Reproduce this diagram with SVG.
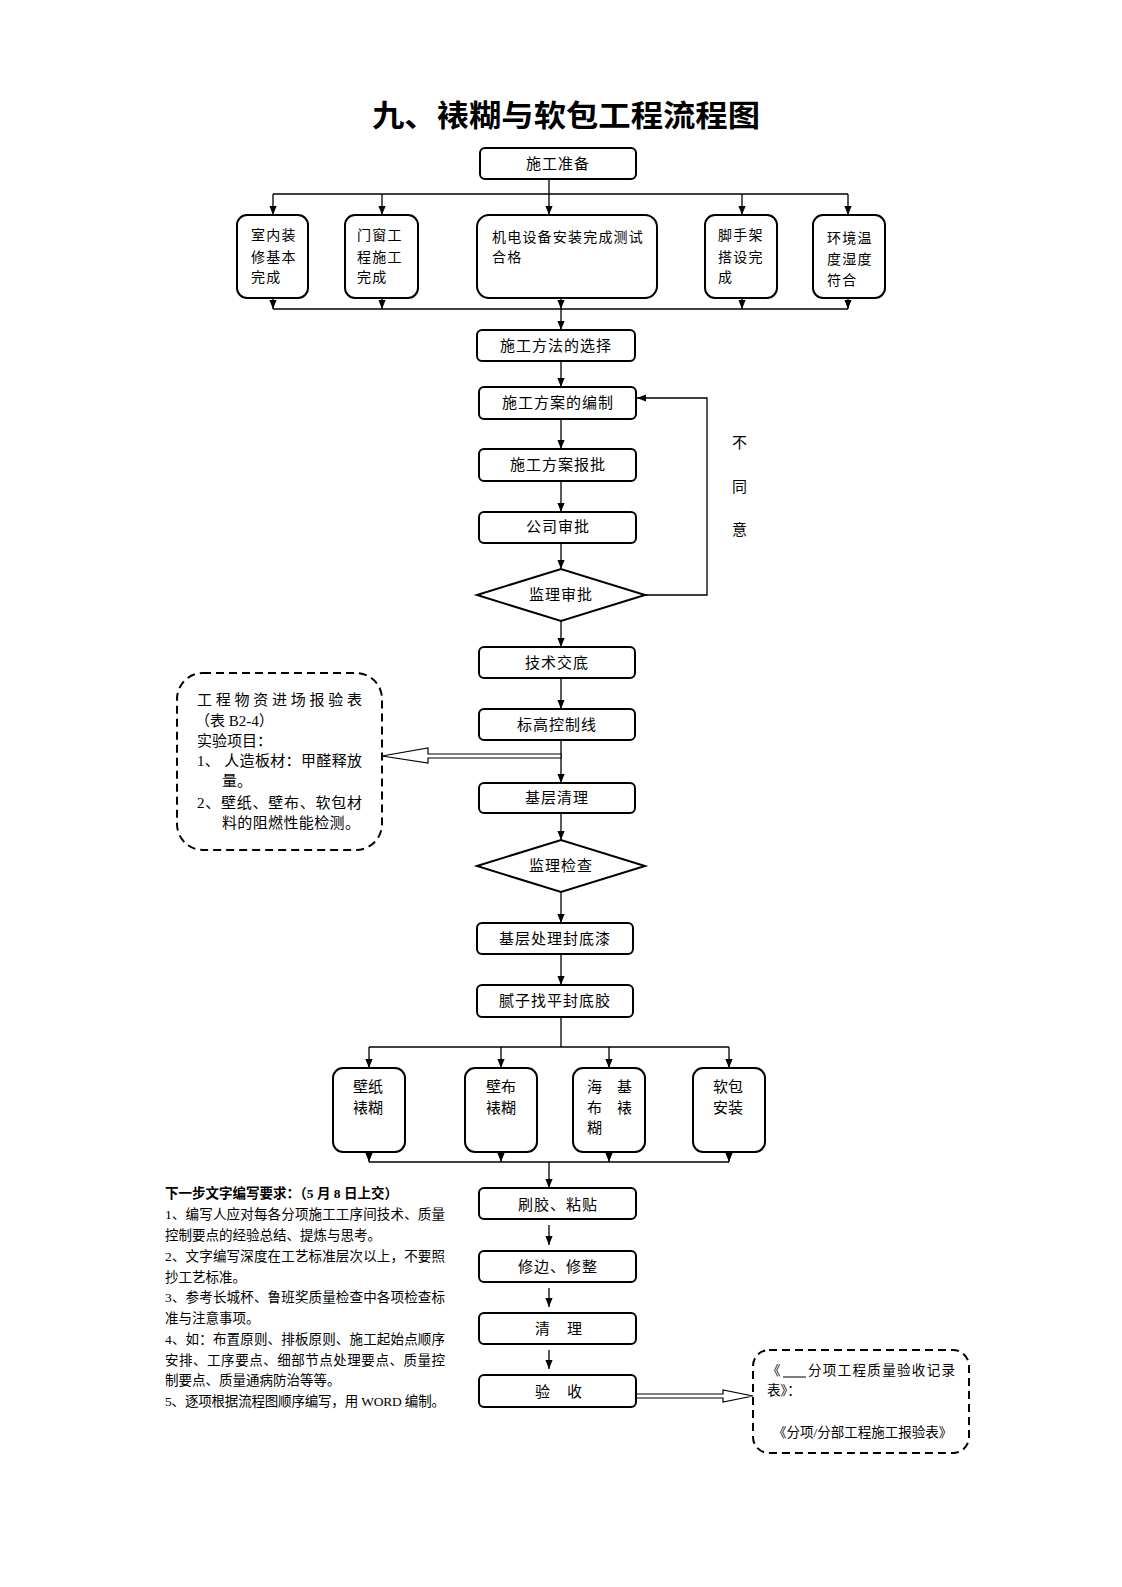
<svg xmlns="http://www.w3.org/2000/svg" width="1122" height="1587" viewBox="0 0 1122 1587">
<style>
.box{fill:#fff;stroke:#000;stroke-width:2}
.dash{fill:none;stroke:#000;stroke-width:2;stroke-dasharray:8 5}
.conn{fill:none;stroke:#000;stroke-width:1.3}
.hollow{fill:#fff;stroke:#000;stroke-width:1.2}
.t{font-family:"Liberation Serif","Noto Sans CJK SC",serif;font-size:15px;fill:#000}
.c{text-anchor:middle;letter-spacing:1px}
.s{font-size:14px;letter-spacing:1.2px}
.n{font-size:13.5px}
.r{font-size:13.5px}
.title{font-family:"Noto Sans CJK SC",sans-serif;font-size:30px;font-weight:bold;fill:#000}
</style>
<defs>
<marker id="ah" viewBox="0 0 10 10" refX="10" refY="5" markerWidth="9" markerHeight="9" markerUnits="userSpaceOnUse" orient="auto">
<path d="M0,1 L10,5 L0,9 z" fill="#000"/>
</marker>
</defs>

<text class="title" x="372" y="126" textLength="388" lengthAdjust="spacingAndGlyphs">九、裱糊与软包工程流程图</text>

<g id="connectors">
<path class="conn" d="M273,194 H848"/>
<path class="conn" d="M273,194 V215" marker-end="url(#ah)"/>
<path class="conn" d="M382,194 V215" marker-end="url(#ah)"/>
<path class="conn" d="M549,179 V215" marker-end="url(#ah)"/>
<path class="conn" d="M742,194 V215" marker-end="url(#ah)"/>
<path class="conn" d="M848,194 V215" marker-end="url(#ah)"/>
<path class="conn" d="M273,309 H848"/>
<path class="conn" d="M273,298 V309" marker-end="url(#ah)"/>
<path class="conn" d="M382,298 V309" marker-end="url(#ah)"/>
<path class="conn" d="M561,298 V309" marker-end="url(#ah)"/>
<path class="conn" d="M742,298 V309" marker-end="url(#ah)"/>
<path class="conn" d="M848,298 V309" marker-end="url(#ah)"/>
<path class="conn" d="M561,309 V330" marker-end="url(#ah)"/>
<path class="conn" d="M561,361 V387" marker-end="url(#ah)"/>
<path class="conn" d="M561,419 V449" marker-end="url(#ah)"/>
<path class="conn" d="M561,481 V512" marker-end="url(#ah)"/>
<path class="conn" d="M561,543 V569" marker-end="url(#ah)"/>
<path class="conn" d="M645,595 H707 V398 H637" marker-end="url(#ah)"/>
<path class="conn" d="M561,621 V647" marker-end="url(#ah)"/>
<path class="conn" d="M561,678 V709" marker-end="url(#ah)"/>
<path class="conn" d="M561,740 V783" marker-end="url(#ah)"/>
<path class="conn" d="M561,813 V840" marker-end="url(#ah)"/>
<path class="conn" d="M561,892 V923" marker-end="url(#ah)"/>
<path class="conn" d="M561,954 V985" marker-end="url(#ah)"/>
<path class="conn" d="M561,1017 V1047"/>
<path class="conn" d="M369,1047 H729"/>
<path class="conn" d="M369,1047 V1068" marker-end="url(#ah)"/>
<path class="conn" d="M501,1047 V1068" marker-end="url(#ah)"/>
<path class="conn" d="M609,1047 V1068" marker-end="url(#ah)"/>
<path class="conn" d="M729,1047 V1068" marker-end="url(#ah)"/>
<path class="conn" d="M369,1162 H729"/>
<path class="conn" d="M369,1152 V1162" marker-end="url(#ah)"/>
<path class="conn" d="M501,1152 V1162" marker-end="url(#ah)"/>
<path class="conn" d="M609,1152 V1162" marker-end="url(#ah)"/>
<path class="conn" d="M729,1152 V1162" marker-end="url(#ah)"/>
<path class="conn" d="M549,1162 V1188" marker-end="url(#ah)"/>
<path class="conn" d="M549,1225 V1245" marker-end="url(#ah)"/>
<path class="conn" d="M549,1288 V1307" marker-end="url(#ah)"/>
<path class="conn" d="M549,1350 V1369" marker-end="url(#ah)"/>
<polygon class="hollow" points="561,754 428,754 428,748 382,756 428,763 428,758 561,758"/>
<polygon class="hollow" points="636,1394 723,1394 723,1390 753,1396 723,1402 723,1398 636,1398"/>
</g>

<g id="n_prep"><rect class="box" x="480" y="148" width="156" height="31" rx="5"/><text class="t c" x="558" y="169">施工准备</text></g>

<g id="n_top1"><rect class="box" x="237" y="215" width="71" height="83" rx="10"/>
<text class="t s" x="251" y="240">室内装</text><text class="t s" x="251" y="262">修基本</text><text class="t s" x="251" y="282">完成</text></g>
<g id="n_top2"><rect class="box" x="345" y="215" width="73" height="83" rx="10"/>
<text class="t s" x="357" y="240">门窗工</text><text class="t s" x="357" y="262">程施工</text><text class="t s" x="357" y="282">完成</text></g>
<g id="n_top3"><rect class="box" x="477" y="215" width="180" height="83" rx="12"/>
<text class="t s" x="492" y="242">机电设备安装完成测试</text><text class="t s" x="492" y="262">合格</text></g>
<g id="n_top4"><rect class="box" x="705" y="215" width="72" height="83" rx="10"/>
<text class="t s" x="718" y="240">脚手架</text><text class="t s" x="718" y="262">搭设完</text><text class="t s" x="718" y="282">成</text></g>
<g id="n_top5"><rect class="box" x="813" y="215" width="72" height="83" rx="10"/>
<text class="t s" x="827" y="243">环境温</text><text class="t s" x="827" y="264">度湿度</text><text class="t s" x="827" y="285">符合</text></g>

<g id="n_method"><rect class="box" x="477" y="330" width="158" height="31" rx="5"/><text class="t c" x="556" y="351">施工方法的选择</text></g>
<g id="n_plan"><rect class="box" x="479" y="387" width="157" height="32" rx="5"/><text class="t c" x="558" y="408">施工方案的编制</text></g>
<g id="n_submit"><rect class="box" x="479" y="449" width="157" height="32" rx="5"/><text class="t c" x="558" y="470">施工方案报批</text></g>
<g id="n_company"><rect class="box" x="479" y="512" width="157" height="31" rx="5"/><text class="t c" x="558" y="532">公司审批</text></g>
<g id="n_supapprove"><polygon class="box" points="477,595 561,569 645,595 561,621"/><text class="t c" x="561" y="600">监理审批</text></g>
<g id="n_disagree"><text class="t" x="732" y="448" font-size="16">不</text><text class="t" x="732" y="492" font-size="16">同</text><text class="t" x="732" y="535" font-size="16">意</text></g>

<g id="n_brief"><rect class="box" x="479" y="647" width="156" height="31" rx="5"/><text class="t c" x="557" y="668">技术交底</text></g>
<g id="n_level"><rect class="box" x="479" y="709" width="156" height="31" rx="5"/><text class="t c" x="557" y="730">标高控制线</text></g>
<g id="n_clean"><rect class="box" x="479" y="783" width="156" height="30" rx="5"/><text class="t c" x="557" y="803">基层清理</text></g>
<g id="n_supcheck"><polygon class="box" points="477,866 561,840 645,866 561,892"/><text class="t c" x="561" y="871">监理检查</text></g>
<g id="n_primer"><rect class="box" x="477" y="923" width="156" height="31" rx="5"/><text class="t c" x="555" y="944">基层处理封底漆</text></g>
<g id="n_putty"><rect class="box" x="477" y="985" width="156" height="32" rx="5"/><text class="t c" x="555" y="1006">腻子找平封底胶</text></g>

<g id="n_material"><rect class="dash" x="177" y="673" width="205" height="177" rx="26"/>
<text class="t" x="197" y="705" textLength="165" lengthAdjust="spacing">工程物资进场报验表</text>
<text class="t" x="195" y="726">（表 B2-4）</text>
<text class="t" x="197" y="746">实验项目：</text>
<text class="t" x="197" y="766" textLength="165" lengthAdjust="spacing">1、 人造板材：甲醛释放</text>
<text class="t" x="222" y="786">量。</text>
<text class="t" x="197" y="808" textLength="165" lengthAdjust="spacing">2、壁纸、壁布、软包材</text>
<text class="t" x="222" y="828" textLength="138" lengthAdjust="spacing">料的阻燃性能检测。</text>
</g>

<g id="n_wallpaper"><rect class="box" x="333" y="1068" width="72" height="84" rx="10"/>
<text class="t" x="353" y="1092" font-size="15.5">壁纸</text><text class="t" x="353" y="1113" font-size="15.5">裱糊</text></g>
<g id="n_wallcloth"><rect class="box" x="465" y="1068" width="72" height="84" rx="10"/>
<text class="t" x="486" y="1092" font-size="15.5">壁布</text><text class="t" x="486" y="1113" font-size="15.5">裱糊</text></g>
<g id="n_haiji"><rect class="box" x="573" y="1068" width="72" height="84" rx="10"/>
<text class="t" x="587" y="1092" font-size="15.5">海</text><text class="t" x="617" y="1092" font-size="15.5">基</text>
<text class="t" x="587" y="1113" font-size="15.5">布</text><text class="t" x="617" y="1113" font-size="15.5">裱</text>
<text class="t" x="587" y="1133" font-size="15.5">糊</text></g>
<g id="n_softpack"><rect class="box" x="693" y="1068" width="72" height="84" rx="10"/>
<text class="t" x="713" y="1092" font-size="15.5">软包</text><text class="t" x="713" y="1113" font-size="15.5">安装</text></g>

<g id="n_glue"><rect class="box" x="479" y="1188" width="157" height="31" rx="5"/><text class="t" x="518" y="1210" textLength="79" lengthAdjust="spacing">刷胶、粘贴</text></g>
<g id="n_trim"><rect class="box" x="479" y="1251" width="157" height="31" rx="5"/><text class="t" x="518" y="1272" textLength="79" lengthAdjust="spacing">修边、修整</text></g>
<g id="n_tidy"><rect class="box" x="479" y="1313" width="157" height="31" rx="5"/><text class="t" x="535" y="1334">清</text><text class="t" x="567" y="1334">理</text></g>
<g id="n_accept"><rect class="box" x="479" y="1375" width="157" height="32" rx="5"/><text class="t" x="535" y="1397">验</text><text class="t" x="567" y="1397">收</text></g>

<g id="n_records"><rect class="dash" x="753" y="1350" width="216" height="103" rx="16"/>
<text class="t r" x="767" y="1375">《</text>
<line x1="783" y1="1377" x2="806" y2="1377" stroke="#000" stroke-width="1"/>
<text class="t r" x="808" y="1375" textLength="147" lengthAdjust="spacing">分项工程质量验收记录</text>
<text class="t r" x="767" y="1395">表》：</text>
<text class="t r" x="773" y="1437">《分项/分部工程施工报验表》</text>
</g>

<g id="notes">
<text class="t n" x="165" y="1198" font-weight="bold" textLength="233" lengthAdjust="spacing">下一步文字编写要求：（5 月 8 日上交）</text>
<text class="t n" x="165" y="1219" textLength="280" lengthAdjust="spacing">1、编写人应对每各分项施工工序间技术、质量</text>
<text class="t n" x="165" y="1240">控制要点的经验总结、提炼与思考。</text>
<text class="t n" x="165" y="1261" textLength="280" lengthAdjust="spacing">2、文字编写深度在工艺标准层次以上，不要照</text>
<text class="t n" x="165" y="1282">抄工艺标准。</text>
<text class="t n" x="165" y="1302" textLength="280" lengthAdjust="spacing">3、参考长城杯、鲁班奖质量检查中各项检查标</text>
<text class="t n" x="165" y="1323">准与注意事项。</text>
<text class="t n" x="165" y="1344" textLength="280" lengthAdjust="spacing">4、如：布置原则、排板原则、施工起始点顺序</text>
<text class="t n" x="165" y="1365" textLength="280" lengthAdjust="spacing">安排、工序要点、细部节点处理要点、质量控</text>
<text class="t n" x="165" y="1385">制要点、质量通病防治等等。</text>
<text class="t n" x="165" y="1406" textLength="280" lengthAdjust="spacing">5、逐项根据流程图顺序编写，用 WORD 编制。</text>
</g>
</svg>
